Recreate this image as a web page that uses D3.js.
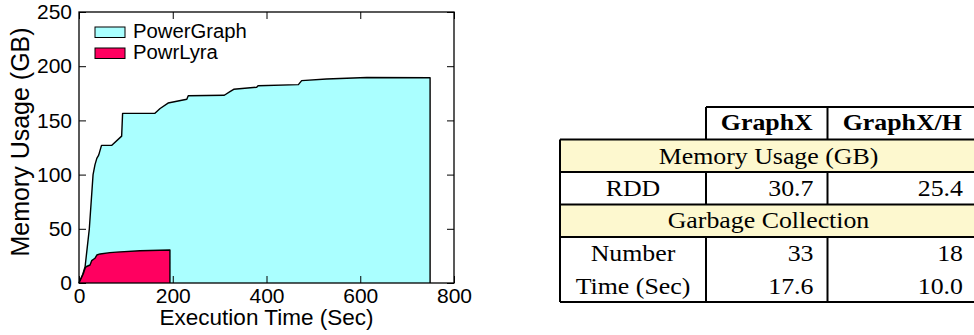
<!DOCTYPE html>
<html>
<head>
<meta charset="utf-8">
<script src="https://cdn.jsdelivr.net/npm/d3@7"></script>
<style>
  body { margin: 0; background: #fff; }
  svg { display: block; }
</style>
</head>
<body>
<svg id="chart" width="974" height="335"></svg>
<script>
// memory usage over time, PowerGraph vs PowerLyra
const pgTime = [0, 8, 13, 22, 30, 34, 38, 42, 48, 70, 91, 93, 162, 173, 190, 230, 233, 310, 322, 330, 379, 382, 468, 475, 528, 614, 749]
const pgMem = [0, 8, 15, 50, 100, 109, 115, 118, 127, 127, 135.5, 156.5, 156.5, 161, 166, 169.5, 172.8, 173.2, 176.5, 178.7, 180.6, 182, 183, 186.7, 188.2, 189.6, 189.4]

const plTime = [0, 9, 13, 15, 23.5, 27, 34, 38, 45, 66, 80, 130, 194]
const plMem = [0, 8.3, 13.6, 15, 16.6, 20.6, 22.8, 25.8, 26.8, 28, 28.5, 29.8, 30.4]

const seriesNames = ['PowerGraph', 'PowrLyra']
const xTicks = [0, 200, 400, 600, 800]
const yTicks = [0, 50, 100, 150, 200, 250]

// table
const tableCols = ['GraphX', 'GraphX/H']
const sectionTitles = ['Memory Usage (GB)', 'Garbage Collection']
const memRows = [['RDD', '30.7', '25.4']]
const gcRows = [['Number', '33', '18'], ['Time (Sec)', '17.6', '10.0']]

const COLORS = { pg: '#aaffff', pl: '#ff0060', band: '#fdf8cf' }
const PLOT = { left: 79, right: 454, top: 12, bottom: 283 }

const svg = d3.select('#chart')

const x = d3.scaleLinear().domain([0, 800]).range([PLOT.left, PLOT.right])
const y = d3.scaleLinear().domain([0, 250]).range([PLOT.bottom, PLOT.top])

const pgData = pgTime.map((t, i) => ({ t: t, m: pgMem[i] }))
const plData = plTime.map((t, i) => ({ t: t, m: plMem[i] }))

const area = d3.area()
  .x(d => x(d.t))
  .y0(y(0))
  .y1(d => y(d.m))

const line = d3.line()
  .x(d => x(d.t))
  .y(d => y(d.m))

function drawSeries(data, fill) {
  svg.append('path')
    .datum(data)
    .attr('d', area)
    .attr('fill', fill)
  // outline plus the closing edge down to zero
  const last = data[data.length - 1]
  svg.append('path')
    .datum(data.concat([{ t: last.t, m: 0 }]))
    .attr('d', line)
    .attr('fill', 'none')
    .attr('stroke', '#000')
    .attr('stroke-width', 1.4)
    .attr('stroke-linejoin', 'round')
}

drawSeries(pgData, COLORS.pg)
drawSeries(plData, COLORS.pl)

// axes, ticks point inward
const tickFont = '"Liberation Sans", Arial, sans-serif'

svg.append('g')
  .attr('transform', 'translate(0,' + PLOT.bottom + ')')
  .call(d3.axisBottom(x).tickValues(xTicks).tickSize(-7).tickPadding(5))
svg.append('g')
  .attr('transform', 'translate(' + PLOT.left + ',0)')
  .call(d3.axisLeft(y).tickValues(yTicks).tickSize(-7).tickPadding(7))
svg.append('g')
  .attr('transform', 'translate(0,' + PLOT.top + ')')
  .call(d3.axisTop(x).tickValues(xTicks).tickSize(-7).tickFormat(''))
svg.append('g')
  .attr('transform', 'translate(' + PLOT.right + ',0)')
  .call(d3.axisRight(y).tickValues(yTicks).tickSize(-7).tickFormat(''))

svg.selectAll('.domain').remove()
svg.selectAll('.tick line').attr('stroke', '#000')
svg.selectAll('.tick text')
  .attr('font-family', tickFont)
  .attr('font-size', 21)
  .attr('fill', '#000')

svg.append('rect')
  .attr('x', PLOT.left)
  .attr('y', PLOT.top)
  .attr('width', PLOT.right - PLOT.left)
  .attr('height', PLOT.bottom - PLOT.top)
  .attr('fill', 'none')
  .attr('stroke', '#000')
  .attr('stroke-width', 1.3)

// axis titles
svg.append('text')
  .attr('x', (PLOT.left + PLOT.right) / 2)
  .attr('y', 325)
  .attr('text-anchor', 'middle')
  .attr('font-family', tickFont)
  .attr('font-size', 22.5)
  .text('Execution Time (Sec)')

svg.append('text')
  .attr('transform', 'translate(29,' + 142 + ') rotate(-90) scale(1,1.05)')
  .attr('text-anchor', 'middle')
  .attr('font-family', tickFont)
  .attr('font-size', 25)
  .text('Memory Usage (GB)')

// legend
const legend = svg.append('g')
seriesNames.forEach((name, i) => {
  const yy = 27 + i * 21
  legend.append('rect')
    .attr('x', 95).attr('y', yy)
    .attr('width', 30).attr('height', 10.5)
    .attr('fill', i === 0 ? COLORS.pg : COLORS.pl)
    .attr('stroke', '#000')
    .attr('stroke-width', 1)
  legend.append('text')
    .attr('transform', 'translate(133,' + (yy + 11) + ') scale(1.04,1)')
    .attr('font-family', tickFont)
    .attr('font-size', 19.5)
    .text(name)
})

// ---- table ----
const T = { left: 560, c1: 706, c2: 827.5, right: 977, top: 107, rowH: 32.5 }
const serif = '"Liberation Serif", "Times New Roman", serif'
const tbl = svg.append('g')

const rowTop = i => T.top + i * T.rowH

function cellText(tx, ty, str, anchor, bold) {
  tbl.append('text')
    .attr('transform', 'translate(' + tx + ',' + ty + ') scale(1.1,1)')
    .attr('text-anchor', anchor)
    .attr('font-family', serif)
    .attr('font-size', 23.5)
    .attr('font-weight', bold ? 'bold' : 'normal')
    .text(str)
}

function hLine(x1, x2, yy) {
  tbl.append('line').attr('x1', x1).attr('x2', x2).attr('y1', yy).attr('y2', yy)
    .attr('stroke', '#000').attr('stroke-width', 2)
}
function vLine(xx, y1, y2) {
  tbl.append('line').attr('x1', xx).attr('x2', xx).attr('y1', y1).attr('y2', y2)
    .attr('stroke', '#000').attr('stroke-width', 2)
}

// yellow section bands
;[1, 3].forEach(r => {
  tbl.append('rect')
    .attr('x', T.left).attr('y', rowTop(r))
    .attr('width', T.right - T.left).attr('height', T.rowH)
    .attr('fill', COLORS.band)
})

// header
tableCols.forEach((c, i) => {
  const cx = i === 0 ? (T.c1 + T.c2) / 2 : (T.c2 + T.right) / 2
  cellText(cx, rowTop(0) + 22.5, c, 'middle', true)
})
cellText((T.left + T.right) / 2, rowTop(1) + 24, sectionTitles[0], 'middle', false)
cellText((T.left + T.right) / 2, rowTop(3) + 23.5, sectionTitles[1], 'middle', false)

const dataRows = memRows.map(r => ({ r: r, row: 2 }))
  .concat(gcRows.map((r, i) => ({ r: r, row: 4 + i })))
dataRows.forEach(d => {
  const base = rowTop(d.row) + 24
  cellText((T.left + T.c1) / 2, base, d.r[0], 'middle', false)
  cellText(T.c2 - 14, base, d.r[1], 'end', false)
  cellText(T.right - 14, base, d.r[2], 'end', false)
})

// grid lines
hLine(T.c1, T.right, rowTop(0))
for (let r = 1; r <= 4; r++) hLine(T.left, T.right, rowTop(r))
hLine(T.left, T.right, rowTop(6))
vLine(T.c1, rowTop(0), rowTop(1))
vLine(T.c2, rowTop(0), rowTop(1))
vLine(T.left, rowTop(1), rowTop(6))
vLine(T.c1, rowTop(2), rowTop(3))
vLine(T.c2, rowTop(2), rowTop(3))
vLine(T.c1, rowTop(4), rowTop(6))
vLine(T.c2, rowTop(4), rowTop(6))
</script>
</body>
</html>
